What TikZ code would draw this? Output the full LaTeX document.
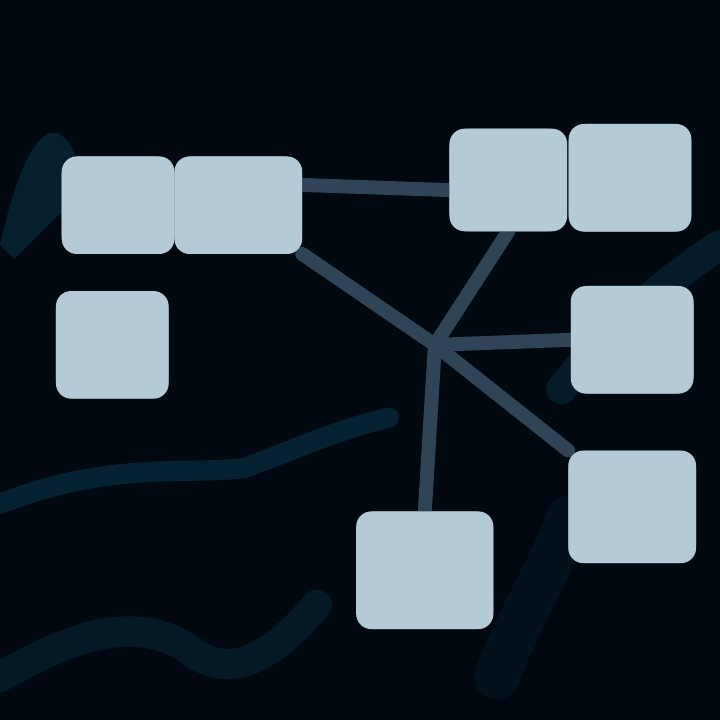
\documentclass[tikz,border=0pt]{standalone}
\usetikzlibrary{positioning}
\definecolor{bgdark}{HTML}{020810}
\definecolor{boxblue}{HTML}{B4CAD6}
\definecolor{linkgray}{HTML}{2F4456}
\definecolor{waveteal}{HTML}{0E4A66}
\tikzset{
    panel/.style={fill=boxblue, draw=boxblue!70!bgdark, line width=3pt, rounded corners=6pt, inner sep=0pt},
    link/.style={linkgray, line width=5.5pt, line cap=round},
    wave/.style={waveteal, line width=8pt, opacity=0.4, line cap=round}
}
\begin{document}
\begin{tikzpicture}
    \fill[bgdark] (0,0) rectangle (10,10);
    \useasboundingbox (0,0) rectangle (10,10);

    % background waves
    \fill[waveteal, opacity=0.35] (0,6.6) .. controls (0.4,8.4) and (0.9,8.6) .. (1.2,7.4) -- (0.2,6.4) -- cycle;
    \draw[wave] (0,3.0) .. controls (1.5,3.6) and (2.6,3.4) .. (3.4,3.5) .. controls (4.2,3.8) and (4.6,4.0) .. (5.4,4.2);
    \draw[wave, opacity=0.25, line width=12pt] (0,0.6) .. controls (0.9,1.1) and (1.8,1.5) .. (2.6,1.0) .. controls (3.2,0.5) and (3.8,0.9) .. (4.4,1.6);
    \draw[wave, opacity=0.3, line width=12pt] (7.8,4.6) .. controls (8.6,5.6) and (9.4,6.2) .. (10,6.6);
    \draw[wave, opacity=0.15, line width=18pt] (6.9,0.6) .. controls (7.2,1.4) and (7.6,2.0) .. (7.9,2.8);

    % boxes
    \node[panel, minimum width=1.46cm, minimum height=1.25cm] (tl1) at (1.64,7.15) {};
    \node[panel, minimum width=1.67cm, minimum height=1.25cm] (tl2) at (3.31,7.15) {};
    \node[panel, minimum width=1.46cm, minimum height=1.39cm] (ml) at (1.56,5.21) {};
    \node[panel, minimum width=1.53cm, minimum height=1.32cm] (tr1) at (7.06,7.5) {};
    \node[panel, minimum width=1.6cm, minimum height=1.39cm] (tr2) at (8.75,7.53) {};
    \node[panel, minimum width=1.6cm, minimum height=1.39cm] (rm) at (8.78,5.28) {};
    \node[panel, minimum width=1.67cm, minimum height=1.46cm] (rl) at (8.78,2.96) {};
    \node[panel, minimum width=1.8cm, minimum height=1.53cm] (bot) at (5.9,2.08) {};
    \coordinate (hub) at (6.04,5.21);

    % connectors
    \draw[link] ([yshift=8pt]tl2.east) -- ([yshift=-4pt]tr1.west);
    \draw[link] (hub) -- (tl2.south east);
    \draw[link] (hub) -- (tr1.south);
    \draw[link] (hub) -- (rm.west);
    \draw[link] (hub) -- (rl.north west);
    \draw[link] (hub) -- (bot.north);

    % redraw boxes above connectors
    \foreach \n in {tl1,tl2,ml,tr1,tr2,rm,rl,bot}
        \fill[boxblue, rounded corners=6pt] (\n.south west) rectangle (\n.north east);
\end{tikzpicture}
\end{document}
